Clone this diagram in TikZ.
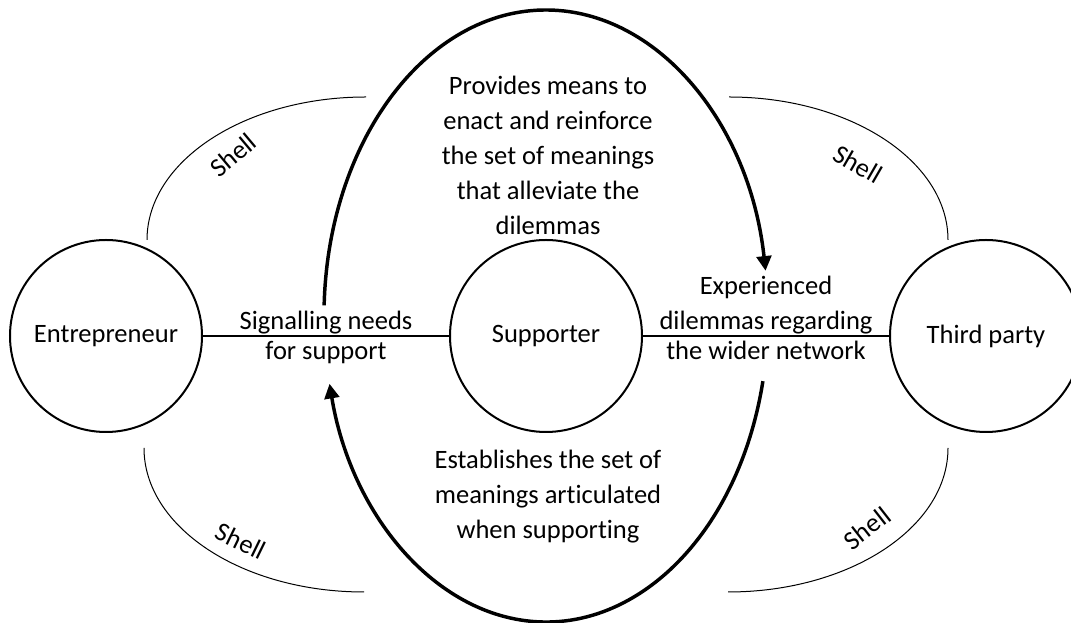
\documentclass[tikz,border=0pt]{standalone}
\usepackage{fontspec}
\setmainfont{Carlito}[Ligatures=NoCommon]
\usetikzlibrary{arrows.meta,positioning}
\tikzset{every picture/.style={line width=1pt}}
\tikzset{font=\fontsize{19.9}{26.25}\selectfont}
\tikzstyle{party}=[circle,draw,line width=1.5pt,minimum size=144pt,inner sep=0pt]
\tikzstyle{txt}=[align=center,inner sep=0pt]
\tikzstyle{uplabel}=[above,align=center,inner sep=1pt]
\tikzstyle{downlabel}=[below,align=center,inner sep=3.5pt]
\tikzstyle{loopline}=[line width=2.6pt,-{Triangle[length=11pt,width=11pt]}]
\tikzstyle{shell}=[line width=0.75pt]

\begin{document}
\begin{tikzpicture}[x=0.75pt,y=0.75pt]
\useasboundingbox (0,0) rectangle (1071,623);
\node[party] (E) at (106,287) {Entrepreneur};
\node[party] (S) at (546,287) {Supporter};
\node[party] (T) at (986,287) {Third party};
\draw (E) -- node[uplabel] {Signalling needs} node[downlabel] {for support} (S);
\draw (S) -- node[uplabel] {Experienced\\dilemmas regarding} node[downlabel] {the wider network} (T);
% the loop round the supporter
\coordinate (loop) at (546,307);
\draw[loopline] (loop) ++(178:222 and 306) arc[start angle=178,end angle=8.5,x radius=222,y radius=306];
\draw[loopline] (loop) ++(-12.3:222 and 306) arc[start angle=-12.3,end angle=-167.2,x radius=222,y radius=306];
\node[txt] (give) at (548,468) {Provides means to\\enact and reinforce\\the set of meanings\\that alleviate the\\dilemmas};
\node[txt] (base) at (548,126) {Establishes the set of\\meanings articulated\\when supporting};
% shells
\coordinate (tl) at (147,383);
\coordinate (tr) at (729,526);
\coordinate (bl) at (144,175);
\coordinate (br) at (948,175);
\draw[shell] (tl) arc[start angle=180,end angle=90,x radius=219,y radius=143];
\draw[shell] (tr) arc[start angle=90,end angle=0,x radius=219,y radius=143];
\draw[shell] (bl) arc[start angle=180,end angle=270,x radius=220,y radius=144];
\draw[shell] (br) arc[start angle=0,end angle=-90,x radius=220,y radius=144];
\node[rotate=40] (tlshell) at (233,468) {Shell};
\node[rotate=-30] (trshell) at (858,459) {Shell};
\node[rotate=-26] (blshell) at (241,82) {Shell};
\node[rotate=38] (brshell) at (867,95) {Shell};
\end{tikzpicture}
\end{document}
